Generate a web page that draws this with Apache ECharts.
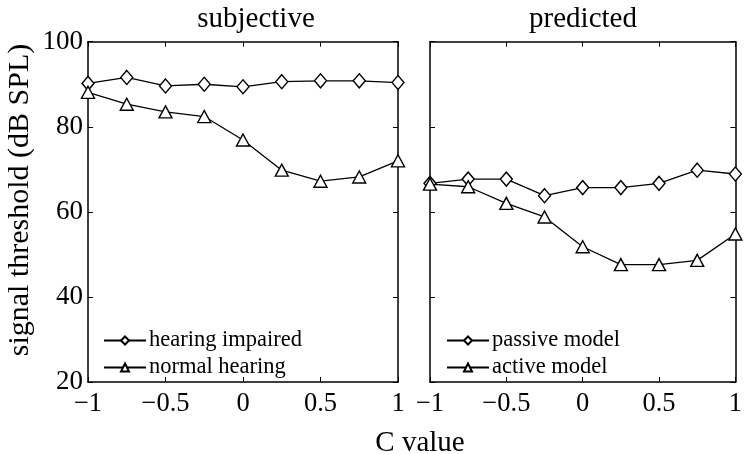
<!DOCTYPE html>
<html><head><meta charset="utf-8">
<script src="https://cdn.jsdelivr.net/npm/echarts@6/dist/echarts.min.js"></script>
<style>html,body{margin:0;padding:0;background:#fff}#c{width:745px;height:454px}</style>
</head><body><div id="c"></div>
<script>
const cValues = [-1, -0.75, -0.5, -0.25, 0, 0.25, 0.5, 0.75, 1];
const hearingImpaired = [90.2, 91.6, 89.6, 90.0, 89.4, 90.6, 90.8, 90.8, 90.4];
const normalHearing = [88.1, 85.3, 83.5, 82.4, 76.9, 69.8, 67.2, 68.2, 72.0];
const passiveModel = [66.7, 67.7, 67.7, 63.8, 65.7, 65.7, 66.7, 69.8, 68.9];
const activeModel = [66.5, 65.9, 62.0, 58.8, 51.8, 47.6, 47.6, 48.6, 54.8];
const panelTitles = ['subjective', 'predicted'];
const xTicks = [-1, -0.5, 0, 0.5, 1];
const yTicks = [20, 40, 60, 80, 100];

const FONT = 'Liberation Serif';
const pair = (ys) => cValues.map((x, i) => [x, ys[i]]);
const fmtX = v => (v < 0 ? '\u2212' + Math.abs(v) : String(v));

const grids = [
  {left: 88, right: 347, top: 41.7, bottom: 72},
  {left: 430, right: 4, top: 41.7, bottom: 72}
];

function xAx(gi, pos, labels) {
  return {type: 'value', gridIndex: gi, position: pos, min: xTicks[0], max: xTicks[xTicks.length - 1], interval: 0.5,
    axisLine: {show: true, onZero: false, lineStyle: {color: '#000', width: 1.5}},
    axisTick: {show: true, inside: true, length: 5, lineStyle: {color: '#000', width: 1}},
    axisLabel: {show: labels, formatter: fmtX, color: '#000', fontFamily: FONT, fontSize: 26.5, margin: 9},
    splitLine: {show: false}};
}
function yAx(gi, pos, labels) {
  return {type: 'value', gridIndex: gi, position: pos, min: yTicks[0], max: yTicks[yTicks.length - 1], interval: 20,
    axisLine: {show: true, onZero: false, lineStyle: {color: '#000', width: 1.5}},
    axisTick: {show: true, inside: true, length: 5, lineStyle: {color: '#000', width: 1}},
    axisLabel: {show: labels, color: '#000', fontFamily: FONT, fontSize: 27, margin: 5},
    splitLine: {show: false}};
}

function ser(name, ys, xi, yi, symbol, size) {
  return {name, type: 'line', data: pair(ys), xAxisIndex: xi, yAxisIndex: yi,
    symbol, symbolSize: size, showSymbol: true,
    lineStyle: {color: '#000', width: 1.3},
    itemStyle: {color: '#fff', borderColor: '#000', borderWidth: 1.4},
    emphasis: {disabled: true}, animation: false};
}

const titleStyle = {fontFamily: FONT, fontSize: 29, fontWeight: 'normal', color: '#000'};
const legendText = {fontFamily: FONT, fontSize: 22.5, color: '#000', padding: [0, 0, 0, -2]};
const chart = echarts.init(document.getElementById('c'), null, {renderer: 'canvas'});
chart.setOption({
  animation: false,
  backgroundColor: '#fff',
  grid: grids,
  title: [
    {text: panelTitles[0], left: 251, top: 0, textAlign: 'center', textStyle: titleStyle},
    {text: panelTitles[1], left: 578, top: 0, textAlign: 'center', textStyle: titleStyle},
    {text: 'C value', left: 415, top: 424, textAlign: 'center', textStyle: titleStyle}
  ],
  graphic: [{type: 'text', x: 20, y: 200, rotation: Math.PI / 2,
    style: {text: 'signal threshold (dB SPL)', fontFamily: FONT, fontSize: 30, fill: '#000', align: 'center', verticalAlign: 'middle'}}],
  legend: [
    {data: ['hearing impaired', 'normal hearing'], orient: 'vertical', left: 98, top: 324, itemWidth: 42, itemHeight: 10, itemGap: 4,
      textStyle: legendText, selectedMode: false},
    {data: ['passive model', 'active model'], orient: 'vertical', left: 441, top: 324, itemWidth: 42, itemHeight: 10, itemGap: 4,
      textStyle: legendText, selectedMode: false}
  ],
  xAxis: [xAx(0, 'bottom', true), xAx(0, 'top', false), xAx(1, 'bottom', true), xAx(1, 'top', false)],
  yAxis: [yAx(0, 'left', true), yAx(0, 'right', false), yAx(1, 'left', false), yAx(1, 'right', false)],
  series: [
    ser('hearing impaired', hearingImpaired, 0, 0, 'diamond', [12, 14]),
    ser('normal hearing', normalHearing, 0, 0, 'triangle', [13, 12]),
    ser('passive model', passiveModel, 2, 2, 'diamond', [12, 14]),
    ser('active model', activeModel, 2, 2, 'triangle', [13, 12])
  ]
});
</script></body></html>
